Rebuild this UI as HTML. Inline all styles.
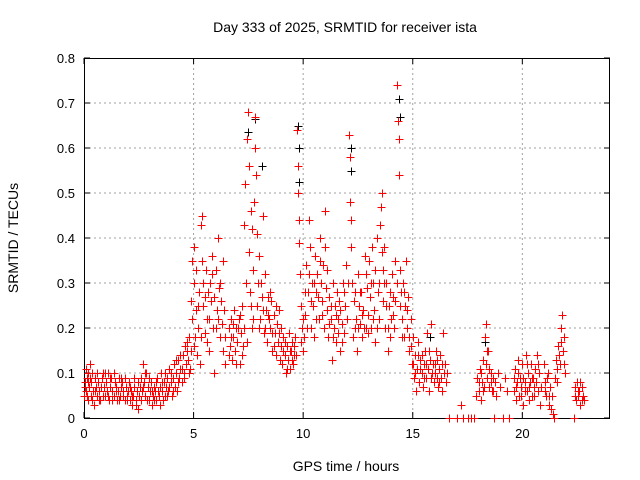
<!DOCTYPE html>
<html><head><meta charset="utf-8"><style>
html,body{margin:0;padding:0;background:#fff;}
svg{display:block;font-family:"Liberation Sans",sans-serif;}
</style></head><body>
<svg id="chart" width="640" height="480" viewBox="0 0 640 480">
<text x="345" y="32" font-size="14" text-anchor="middle">Day 333 of 2025, SRMTID for receiver ista</text>
<text x="346" y="471" font-size="14" text-anchor="middle">GPS time / hours</text>
<text x="18" y="238" font-size="14" text-anchor="middle" transform="rotate(-90 18 238)">SRMTID / TECUs</text>
<g id="grid"></g>
<g id="axes"></g>
<g id="black"></g>
<g id="red"></g>
</svg>
<script>
const xTicks=[0,5,10,15,20];
const yTicks=[0,0.1,0.2,0.3,0.4,0.5,0.6,0.7,0.8];
const yTickLabels=["0","0.1","0.2","0.3","0.4","0.5","0.6","0.7","0.8"];
const blackPts=[[7.5,0.635],[7.8,0.665],[8.1,0.56],[9.75,0.65],[9.8,0.6],[9.8,0.525],[12.2,0.6],[12.2,0.55],[14.35,0.71],[14.4,0.67],[15.8,0.18],[18.3,0.17]];
const redPts=[
[0.02,0.05],[0.05,0.08],[0.08,0.11],[0.1,0.06],[0.13,0.09],[0.16,0.04],[0.2,0.1],[0.23,0.07],[0.26,0.12],[0.3,0.05],[0.33,0.08],[0.36,0.1],[0.4,0.06],[0.45,0.03],[0.5,0.09],[0.55,0.07],[0.6,0.05],[0.65,0.08],[0.7,0.06],[0.75,0.04],[0.8,0.09],[0.85,0.1],[0.9,0.07],[0.95,0.05],[1.0,0.08],[1.05,0.06],[1.1,0.1],[1.15,0.04],[1.2,0.07],[1.25,0.09],[1.3,0.06],[1.35,0.05],[1.4,0.08],[1.45,0.07],[1.5,0.04],[1.55,0.06],[1.6,0.09],[1.65,0.05],[1.7,0.07],[1.75,0.08],[1.8,0.06],[1.85,0.04],[1.9,0.07],[1.95,0.05],[2.0,0.06],[2.05,0.08],[2.1,0.04],[2.15,0.06],[2.2,0.03],[2.25,0.05],[2.3,0.07],[2.35,0.04],[2.4,0.06],[2.45,0.02],[2.5,0.05],[2.55,0.07],[2.6,0.09],[2.65,0.06],[2.7,0.12],[2.75,0.08],[2.8,0.05],[2.85,0.1],[2.9,0.07],[2.95,0.04],[3.0,0.06],[3.05,0.08],[3.1,0.03],[3.15,0.05],[3.2,0.07],[3.25,0.06],[3.3,0.04],[3.35,0.09],[3.4,0.05],[3.45,0.07],[3.5,0.1],[3.55,0.06],[3.6,0.04],[3.65,0.08],[3.7,0.05],[3.75,0.07],[3.8,0.09],[3.85,0.06],[3.9,0.11],[3.95,0.08],[4.0,0.05],[4.05,0.09],[4.1,0.12],[4.15,0.07],[4.2,0.1],[4.25,0.06],[4.3,0.13],[4.35,0.09],[4.4,0.11],[4.45,0.08],[4.5,0.14],[4.55,0.1],[4.6,0.16],[4.65,0.12],[4.7,0.15],[4.75,0.13],[4.8,0.18],[4.85,0.11],
[4.9,0.26],[4.92,0.35],[4.95,0.22],[5.0,0.38],[5.0,0.3],[5.05,0.18],[5.1,0.24],[5.15,0.14],[5.2,0.2],[5.25,0.28],[5.3,0.12],[5.35,0.43],[5.4,0.45],[5.4,0.35],[5.45,0.25],[5.5,0.19],[5.55,0.33],[5.6,0.22],[5.65,0.28],[5.7,0.15],[5.75,0.3],[5.8,0.26],[5.85,0.36],[5.9,0.2],[5.95,0.1],[6.0,0.33],[6.05,0.24],[6.1,0.4],[6.15,0.29],[6.2,0.18],[6.25,0.26],[6.3,0.21],[6.35,0.15],[6.4,0.24],[6.45,0.12],
[6.6,0.2],[6.65,0.16],[6.7,0.22],[6.75,0.13],[6.8,0.18],[6.85,0.24],[6.9,0.15],[6.95,0.2],[7.0,0.17],[7.05,0.22],[7.1,0.12],[7.15,0.19],[7.2,0.25],[7.25,0.16],
[7.3,0.43],[7.35,0.52],[7.4,0.3],[7.45,0.62],[7.5,0.68],[7.52,0.56],[7.55,0.37],[7.6,0.46],[7.62,0.25],[7.65,0.2],[7.7,0.33],[7.75,0.48],[7.8,0.67],[7.82,0.6],[7.85,0.54],[7.9,0.41],[7.95,0.3],[8.0,0.36],[8.05,0.22],[8.1,0.27],[8.15,0.45],[8.2,0.19],[8.25,0.32],[8.3,0.24],[8.35,0.17],[8.4,0.27],[8.45,0.22],[8.5,0.2],[8.55,0.26],[8.6,0.15],[8.65,0.23],[8.7,0.19],[8.75,0.14],[8.8,0.21],[8.85,0.17],[8.9,0.24],[8.95,0.13],[9.0,0.16],[9.05,0.12],[9.1,0.18],[9.15,0.14],[9.2,0.1],[9.25,0.16],[9.3,0.13],[9.35,0.19],[9.4,0.11],[9.45,0.15],[9.5,0.17],[9.55,0.12],[9.6,0.14],[9.65,0.18],
[9.72,0.64],[9.75,0.56],[9.78,0.5],[9.8,0.44],[9.82,0.39],[9.85,0.32],[9.9,0.25],[9.95,0.2],[10.0,0.15],[10.05,0.18],[10.1,0.23],[10.15,0.34],[10.2,0.28],[10.25,0.44],[10.3,0.38],[10.35,0.2],[10.4,0.3],[10.45,0.25],[10.5,0.18],[10.55,0.36],[10.6,0.28],[10.65,0.32],[10.7,0.22],[10.75,0.4],[10.8,0.3],[10.85,0.26],[10.9,0.34],[10.95,0.2],[11.0,0.46],[11.05,0.29],[11.1,0.24],[11.15,0.18],[11.2,0.27],[11.25,0.22],[11.3,0.13],[11.35,0.3],[11.4,0.2],[11.45,0.25],[11.5,0.17],[11.55,0.28],[11.6,0.22],[11.65,0.26],[11.7,0.15],[11.75,0.21],[11.8,0.3],[11.85,0.19],[11.9,0.25],[11.95,0.34],
[12.1,0.63],[12.12,0.58],[12.15,0.48],[12.18,0.44],[12.2,0.38],[12.25,0.3],[12.3,0.26],[12.35,0.2],[12.4,0.22],[12.45,0.15],[12.5,0.32],[12.55,0.25],[12.6,0.21],[12.65,0.28],[12.7,0.18],[12.75,0.24],[12.8,0.36],[12.85,0.2],[12.9,0.29],[12.95,0.23],[13.0,0.35],[13.05,0.27],[13.1,0.2],[13.15,0.38],[13.2,0.3],[13.25,0.24],[13.3,0.17],[13.35,0.4],[13.4,0.28],[13.45,0.22],[13.5,0.43],[13.55,0.47],[13.6,0.5],[13.62,0.33],[13.65,0.26],[13.7,0.38],[13.75,0.2],[13.8,0.3],[13.85,0.15],[13.9,0.25],[13.95,0.18],[14.0,0.22],[14.05,0.32],[14.1,0.27],[14.15,0.2],[14.2,0.35],
[14.3,0.74],[14.32,0.66],[14.35,0.62],[14.38,0.54],[14.4,0.33],[14.45,0.28],[14.5,0.22],[14.55,0.3],[14.6,0.18],[14.65,0.25],[14.7,0.35],[14.75,0.2],[14.8,0.27],[14.85,0.15],[14.9,0.22],[14.95,0.12],[15.0,0.18],[15.05,0.09],[15.1,0.14],[15.15,0.06],[15.2,0.11],[15.25,0.17],[15.3,0.08],[15.35,0.13],[15.4,0.1],[15.45,0.07],[15.5,0.12],[15.55,0.15],[15.6,0.09],[15.65,0.19],[15.7,0.11],[15.75,0.06],[15.8,0.13],[15.85,0.21],[15.9,0.1],[15.95,0.08],[16.0,0.12],[16.05,0.15],[16.1,0.09],[16.15,0.07],[16.2,0.11],[16.25,0.14],[16.3,0.09],[16.35,0.06],[16.4,0.19],[16.45,0.12],[16.5,0.08],[16.55,0.1],
[16.65,0],[17.0,0],[17.2,0.03],[17.3,0],[17.5,0],[17.65,0],[17.8,0],[17.9,0.05],[17.95,0.09],[18.0,0.06],[18.05,0.11],[18.1,0.04],[18.15,0.08],[18.2,0.13],[18.25,0.07],[18.3,0.18],[18.32,0.21],[18.35,0.12],[18.4,0.09],[18.45,0.15],[18.5,0.07],[18.55,0.1],[18.6,0.06],[18.65,0.09],[18.7,0],[18.75,0.08],[18.8,0.05],[18.9,0.1],[19.0,0.07],[19.1,0],[19.2,0.09],[19.3,0.06],[19.4,0],
[19.6,0.06],[19.65,0.11],[19.7,0.04],[19.75,0.08],[19.8,0.13],[19.85,0.05],[19.9,0.09],[19.95,0.07],[20.0,0.12],[20.05,0.03],[20.1,0.08],[20.15,0.14],[20.2,0.06],[20.25,0.1],[20.3,0.04],[20.35,0.08],[20.4,0.12],[20.45,0.05],[20.5,0.09],[20.55,0.07],[20.6,0.11],[20.65,0.14],[20.7,0.06],[20.75,0.1],[20.8,0.03],[20.85,0.07],
[21.0,0.12],[21.05,0.08],[21.1,0.05],[21.15,0.1],[21.2,0.03],[21.25,0.07],[21.3,0.02],[21.35,0.05],[21.4,0.01],[21.45,0],[21.5,0.09],[21.55,0.13],[21.6,0.11],[21.65,0.16],[21.7,0.12],[21.75,0.2],[21.8,0.23],[21.85,0.15],[21.9,0.18],[21.95,0.1],[22.35,0],[22.4,0.07],[22.45,0.04],[22.5,0.08],[22.55,0.05],[22.6,0.06],[22.65,0.03],[22.7,0.07],[22.75,0.05],[22.8,0.04]
];
const redPts2=[
[0.03,0.07],[0.12,0.05],[0.18,0.08],[0.28,0.09],[0.38,0.04],[0.48,0.06],[0.58,0.1],[0.68,0.04],[0.78,0.07],[0.88,0.05],[0.98,0.1],[1.08,0.05],[1.18,0.09],[1.28,0.04],[1.38,0.1],[1.48,0.06],[1.58,0.04],[1.68,0.09],[1.78,0.05],[1.88,0.09],[1.98,0.04],[2.08,0.07],[2.18,0.05],[2.28,0.09],[2.38,0.03],[2.48,0.08],[2.58,0.04],[2.68,0.07],[2.78,0.1],[2.88,0.04],[2.98,0.09],[3.08,0.06],[3.18,0.04],[3.28,0.08],[3.38,0.06],[3.48,0.03],[3.58,0.08],[3.68,0.1],[3.78,0.05],[3.88,0.07],[3.98,0.1],[4.08,0.06],[4.18,0.13],[4.28,0.08],[4.38,0.14],[4.48,0.11],[4.58,0.09],[4.68,0.17],[4.78,0.1],[4.88,0.15],
[5.02,0.16],[5.12,0.33],[5.22,0.25],[5.32,0.18],[5.42,0.3],[5.52,0.27],[5.62,0.17],[5.72,0.22],[5.82,0.32],[5.92,0.27],[6.02,0.2],[6.12,0.22],[6.22,0.3],[6.32,0.35],[6.42,0.18],[6.62,0.14],[6.72,0.18],[6.82,0.21],[6.92,0.12],[7.02,0.2],[7.12,0.23],[7.22,0.14],[7.32,0.2],[7.42,0.17],[7.58,0.28],[7.68,0.42],[7.72,0.22],[7.88,0.25],[7.98,0.2],[8.08,0.3],[8.18,0.24],[8.28,0.2],[8.38,0.23],[8.48,0.28],[8.58,0.19],[8.68,0.16],[8.78,0.25],[8.88,0.19],[8.98,0.2],[9.08,0.15],[9.18,0.17],[9.28,0.11],[9.38,0.15],[9.48,0.13],[9.58,0.16],[9.68,0.14],[9.88,0.17],[9.98,0.22],[10.08,0.28],[10.18,0.2],[10.28,0.32],[10.38,0.26],[10.48,0.3],[10.58,0.22],[10.68,0.27],[10.78,0.35],[10.88,0.23],[10.98,0.38],[11.08,0.33],[11.18,0.21],[11.28,0.25],[11.38,0.18],[11.48,0.23],[11.58,0.19],[11.68,0.24],[11.78,0.17],[11.88,0.28],[11.98,0.22],[12.05,0.3],[12.28,0.18],[12.38,0.28],[12.48,0.2],[12.58,0.28],[12.68,0.23],[12.78,0.2],[12.88,0.32],[12.98,0.19],[13.08,0.3],[13.18,0.22],[13.28,0.33],[13.38,0.2],[13.48,0.3],[13.58,0.37],[13.68,0.3],[13.78,0.25],[13.88,0.2],[13.98,0.28],[14.08,0.23],[14.18,0.26],[14.28,0.3],[14.42,0.25],[14.52,0.18],[14.62,0.28],[14.72,0.24],[14.82,0.18],[14.92,0.16],[15.02,0.12],[15.12,0.1],[15.22,0.14],[15.32,0.11],[15.42,0.14],[15.52,0.09],[15.62,0.12],[15.72,0.15],[15.82,0.09],[15.92,0.12],[16.02,0.1],[16.12,0.13],[16.22,0.08],[16.32,0.12],[16.42,0.1],
[18.02,0.08],[18.12,0.1],[18.22,0.06],[18.38,0.15],[18.48,0.11],[18.58,0.08],[18.68,0.06],[19.62,0.09],[19.72,0.07],[19.82,0.1],[19.92,0.05],[20.02,0.09],[20.12,0.06],[20.22,0.12],[20.32,0.07],[20.42,0.09],[20.52,0.05],[20.62,0.08],[20.72,0.12],[21.02,0.06],[21.12,0.09],[21.22,0.05],[21.58,0.08],[21.68,0.14],[21.78,0.17],[21.88,0.12],[22.42,0.05],[22.52,0.06],[22.62,0.08],[22.72,0.04]
];
const L=84,R=610,T=58,B=418,XMAX=24,YMAX=0.8;
const xs=t=>L+(t/XMAX)*(R-L);
const ys=v=>B-(v/YMAX)*(B-T);
const NS='http://www.w3.org/2000/svg';
function mk(tag,attrs,parent){const e=document.createElementNS(NS,tag);for(const k in attrs)e.setAttribute(k,attrs[k]);parent.appendChild(e);return e;}
const grid=document.getElementById('grid'),axes=document.getElementById('axes');
xTicks.forEach(t=>{
 const x=xs(t);
 if(t>0){const g=mk('line',{x1:x,x2:x,y1:T,y2:B,stroke:'#a0a0a0','stroke-dasharray':'2,3'},grid);
 
 }
 mk('line',{x1:x,x2:x,y1:B,y2:B-6,stroke:'#000'},axes);
 mk('line',{x1:x,x2:x,y1:T,y2:T+6,stroke:'#000'},axes);
 const tx=mk('text',{x:x,y:B+20,'font-size':13,'text-anchor':'middle'},axes);
 tx.textContent=String(t);
 
 
});
yTicks.forEach((v,i)=>{
 const y=ys(v);
 if(v>0&&v<YMAX){const g=mk('line',{x1:L,x2:R,y1:y,y2:y,stroke:'#a0a0a0','stroke-dasharray':'2,3'},grid);
 
 }
 mk('line',{x1:L,x2:L+6,y1:y,y2:y,stroke:'#000'},axes);
 mk('line',{x1:R,x2:R-6,y1:y,y2:y,stroke:'#000'},axes);
 const tx=mk('text',{x:L-9,y:y+5,'font-size':13,'text-anchor':'end'},axes);
 tx.textContent=yTickLabels[i];
 
 
});
const fr=mk('rect',{x:L+0.5,y:T+0.5,width:R-L-1,height:B-T,fill:'none',stroke:'#000'},axes);


function plus(g,t,v,col,name){
 const x=Math.round(xs(t))+0.5,y=Math.round(ys(v))+0.5;
 const p=mk('path',{d:`M${x-4},${y}H${x+4}M${x},${y-4}V${y+4}`,stroke:col,'stroke-width':1,fill:'none'},g);
 
 
}
blackPts.forEach(p=>plus(document.getElementById('black'),p[0],p[1],'#000','black-point'));
redPts.forEach(p=>plus(document.getElementById('red'),p[0],p[1],'#ff0000','red-point'));
redPts2.forEach(p=>plus(document.getElementById('red'),p[0],p[1],'#ff0000','red-point'));
</script>
</body></html>
